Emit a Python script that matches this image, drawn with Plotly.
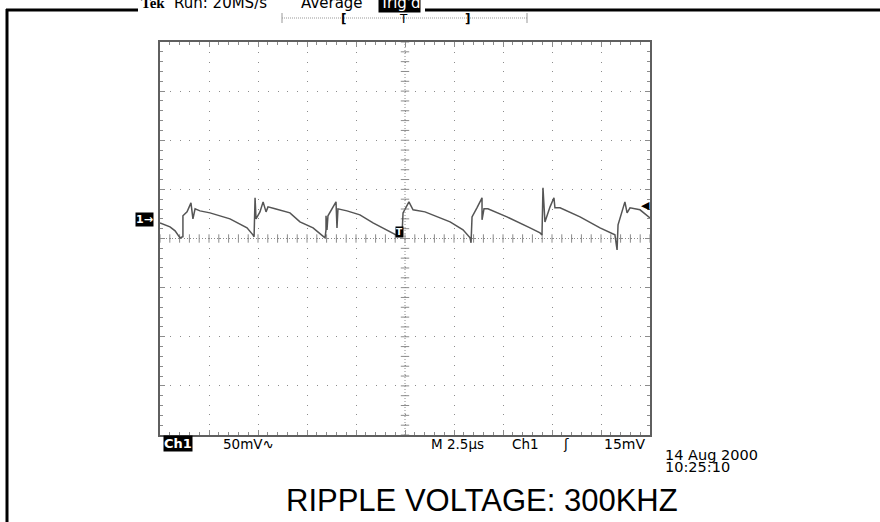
import numpy as np
import plotly.graph_objects as go

# ---- data: oscilloscope trace (time in microseconds, voltage in mV relative to Ch1 ground) ----
time_us = [0.00, 0.51, 0.77, 1.02, 1.17, 1.17, 1.38, 1.58, 1.68, 1.79, 2.04, 2.55, 3.57, 4.44,
           4.74, 4.80, 4.85, 4.90, 5.10, 5.26, 5.41, 5.51, 5.87, 6.63, 7.14, 7.81, 8.42, 8.47,
           8.47, 8.52, 8.57, 8.98, 9.03, 9.08, 9.54, 10.20, 10.87, 11.73, 12.14, 12.35, 12.40,
           12.70, 12.91, 13.52, 14.29, 14.80, 15.46, 15.82, 15.87, 15.92, 16.17, 16.43, 16.43,
           16.53, 16.73, 17.70, 18.88, 19.39, 19.49, 19.54, 19.64, 19.90, 20.10, 20.15, 20.41,
           21.43, 22.45, 23.06, 23.21, 23.32, 23.37, 23.72, 23.83, 23.98, 24.49, 25.00]
volt_mv = [-4.1, -8.1, -12.2, -19.3, -18.3, 3.1, 7.1, 16.3, 0.0, 10.2, 8.1, 6.1, 0.0, -9.2,
           -16.3, -18.3, 21.4, 0.0, 7.1, 17.3, 7.1, 12.2, 10.2, 6.1, -3.1, -9.2, -19.3, -11.2,
           3.1, -11.2, 3.1, 17.3, -9.2, 10.2, 8.1, 4.1, -4.1, -13.2, -17.3, -15.3, 6.1,
           17.3, 9.2, 7.1, 1.0, -3.1, -11.2, -19.3, -24.4, 2.0, 11.2, 21.4, -1.0,
           10.2, 10.2, 2.0, -9.2, -14.3, -16.3, 31.6, -3.1, 12.2, 21.4, 11.2, 11.2,
           2.0, -9.2, -14.3, -16.3, -31.6, -6.1, 17.3, 6.1, 11.2, 9.2, 1.0]

# scope settings
time_per_div = 2.5      # us
volt_per_div = 50       # mV
screen_center_mv = -20  # screen centre relative to ground marker
n_hdiv, n_vdiv = 10, 8

header_labels = ["Run: 20MS/s", "Average", "Trig'd"]
footer_labels = ["Ch1", "50mV∿", "M 2.5µs", "Ch1", "ʃ", "15mV"]
date_label = "14 Aug 2000"
time_label = "10:25:10"
caption = "RIPPLE VOLTAGE: 300KHZ"

x_range = [0, n_hdiv * time_per_div]
y_range = [screen_center_mv - n_vdiv / 2 * volt_per_div, screen_center_mv + n_vdiv / 2 * volt_per_div]
x_mid = sum(x_range) / 2

# ---- layout helpers (pixel -> paper) ----
L, R, T, B = 160, 650, 42, 435
W, H = 880, 522
def px(x):
    return (x - L) / (R - L)
def py(y):
    return (B - y) / (B - T)

GRID = "#8c8c8c"
FRAME = "#5f5f5f"
TXT_FONT = "DejaVu Sans"

fig = go.Figure()

# centre-cross tick marks
xt = np.arange(x_range[0], x_range[1] + 1e-9, time_per_div / 5)
yt = np.arange(y_range[0], y_range[1] + 1e-9, volt_per_div / 5)
fig.add_trace(go.Scatter(x=xt, y=[screen_center_mv] * len(xt), mode="markers",
                         marker=dict(symbol="line-ns", size=6, line=dict(width=1, color=GRID)),
                         hoverinfo="skip", showlegend=False))
fig.add_trace(go.Scatter(x=[x_mid] * len(yt), y=yt, mode="markers",
                         marker=dict(symbol="line-ew", size=6, line=dict(width=1, color=GRID)),
                         hoverinfo="skip", showlegend=False))

# waveform
fig.add_trace(go.Scatter(x=time_us, y=volt_mv, mode="lines",
                         line=dict(color="#555555", width=1.5),
                         showlegend=False, hoverinfo="skip"))

shapes = []
# dense dotted centre lines
shapes.append(dict(type="line", xref="x", yref="y", x0=x_range[0], x1=x_range[1],
                   y0=screen_center_mv, y1=screen_center_mv,
                   line=dict(color=GRID, width=1, dash="1px,2px")))
shapes.append(dict(type="line", xref="x", yref="y", x0=x_mid, x1=x_mid,
                   y0=y_range[0], y1=y_range[1],
                   line=dict(color=GRID, width=1, dash="1px,2px")))
# outer page frame
shapes.append(dict(type="line", xref="paper", yref="paper", x0=px(7), x1=px(7),
                   y0=py(9), y1=py(H + 5), line=dict(color="black", width=3)))
shapes.append(dict(type="line", xref="paper", yref="paper", x0=px(6), x1=px(138),
                   y0=py(10), y1=py(10), line=dict(color="black", width=3)))
shapes.append(dict(type="line", xref="paper", yref="paper", x0=px(425), x1=px(885),
                   y0=py(10), y1=py(10), line=dict(color="black", width=3)))
# trigger position bar
shapes.append(dict(type="line", xref="paper", yref="paper", x0=px(282), x1=px(527),
                   y0=py(18), y1=py(18), line=dict(color="#999999", width=1, dash="1px,1px")))
for xb in (282, 527):
    shapes.append(dict(type="line", xref="paper", yref="paper", x0=px(xb), x1=px(xb),
                       y0=py(13), y1=py(23), line=dict(color="#999999", width=1)))

annotations = []
def ann(text, x, y, size=12, color="black", bg=None, xanchor="left", yanchor="middle",
        family=TXT_FONT, bold=False):
    t = f"<b>{text}</b>" if bold else text
    d = dict(text=t, x=px(x), y=py(y), xref="paper", yref="paper", showarrow=False,
             xanchor=xanchor, yanchor=yanchor,
             font=dict(family=family, size=size, color=color), borderpad=0)
    if bg:
        d["bgcolor"] = bg
    annotations.append(d)

# header
ann("Tek", 140, 3, size=15, family="Liberation Serif", bold=True)
ann(header_labels[0], 173, 3, size=15)
ann(header_labels[1], 300, 3, size=15)
ann(header_labels[2], 378, 3, size=15, color="white", bg="black")
ann("[", 343, 19, size=12, bold=True, xanchor="center")
ann("T", 403, 19, size=12, xanchor="center")
ann("]", 467, 19, size=12, bold=True, xanchor="center")

# markers on screen
ann("1→", 135, 219, size=11, color="white", bg="black", bold=True)
ann("◀", 645, 206, size=11, xanchor="center")
ann("T", 399, 232, size=9, color="white", bg="black", bold=True, xanchor="center")

# footer
ann(footer_labels[0], 163, 444, size=13, color="white", bg="black", bold=True)
ann(footer_labels[1], 222, 444, size=13.5)
ann(footer_labels[2], 430, 444, size=13.5)
ann(footer_labels[3], 511, 444, size=13.5)
ann(footer_labels[4], 566, 444, size=13.5, xanchor="center")
ann(footer_labels[5], 603, 444, size=14)
ann(date_label, 664, 455, size=14.5)
ann(time_label, 664, 467, size=14.5)
ann(caption, 482, 500, size=31, family="Liberation Sans", xanchor="center")

axis_common = dict(showticklabels=False, zeroline=False, showline=True, linecolor=FRAME,
                   linewidth=2, mirror="ticks", ticks="inside", ticklen=5, tickcolor=GRID,
                   tickwidth=1, showgrid=True, gridcolor=GRID, gridwidth=1,
                   griddash="1px,8.8px", fixedrange=True)

fig.update_layout(
    width=W, height=H,
    margin=dict(l=L, r=W - R, t=T, b=H - B),
    paper_bgcolor="white", plot_bgcolor="white",
    xaxis=dict(range=x_range, tick0=0, dtick=time_per_div,
               minor=dict(dtick=time_per_div / 5, ticks="inside", ticklen=3, tickcolor=GRID,
                          showgrid=False),
               **axis_common),
    yaxis=dict(range=y_range, tick0=y_range[0], dtick=volt_per_div,
               minor=dict(dtick=volt_per_div / 5, ticks="inside", ticklen=3, tickcolor=GRID,
                          showgrid=False),
               **axis_common),
    shapes=shapes, annotations=annotations,
)

fig.write_html("out.html", config={"displayModeBar": False},
               post_script="document.body.style.margin='0px';")
